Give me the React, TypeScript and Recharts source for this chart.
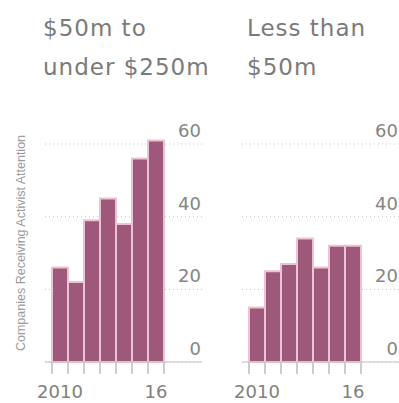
import React from 'react';
import { BarChart, Bar, XAxis, YAxis, CartesianGrid } from 'recharts';

const years = ['2010', '2011', '2012', '2013', '2014', '2015', '2016'];
const yearLabels = ['2010', '', '', '', '', '', '16'];
const midCapValues = [26, 22, 39, 45, 38, 56, 61];
const smallCapValues = [15, 25, 27, 34, 26, 32, 32];
const yTicks = [0, 20, 40, 60];
const leftTitle = ['$50m to', 'under $250m'];
const rightTitle = ['Less than', '$50m'];
const yTitle = 'Companies Receiving Activist Attention';

const BAR = '#9e5879';
const SEP = '#ecc3d2';
const TEXT = '#7a7a7a';
const FONT = '"DejaVu Sans", sans-serif';

const CHART_W = 210;
const M_LEFT = 45;
const M_RIGHT = 7;
const Y_W = 1;
const PAD_L = 7;
const PAD_R = 38;
const PLOT_W = CHART_W - M_LEFT - M_RIGHT - Y_W;
const HALF_BAND = (PLOT_W - PAD_L - PAD_R) / years.length / 2;

const renderYTick = (props: any) => {
  const { x, y, payload } = props;
  return (
    <text x={x - 1} y={y - 7} textAnchor="end" fontFamily={FONT} fontSize={18} fill="#858585">
      {payload.value}
    </text>
  );
};

const renderXTick = (props: any) => {
  const { x, y, payload, index } = props;
  const nx = Number(x);
  const ny = Number(y);
  const half = HALF_BAND;
  const label = yearLabels[years.indexOf(String(payload.value))] ?? '';
  return (
    <g>
      <rect x={Math.round(nx - half) - 0.75} y={ny + 1} width={1.5} height={11} fill="#bdbdbd" />
      {index === years.length - 1 && (
        <rect x={Math.round(nx + half) - 0.75} y={ny + 1} width={1.5} height={11} fill="#bdbdbd" />
      )}
      {label && (
        <text x={nx} y={ny + 36} textAnchor="middle" fontFamily={FONT} fontSize={18} fill="#808080">
          {label}
        </text>
      )}
    </g>
  );
};

const Panel = ({ values }: { values: number[] }) => {
  const data = years.map((y, i) => ({ year: y, value: values[i] }));
  return (
    <BarChart
      width={CHART_W}
      height={403}
      data={data}
      margin={{ top: 129.5, right: M_RIGHT, bottom: 0, left: M_LEFT }}
      barCategoryGap={0}
    >
      <CartesianGrid
        horizontal
        vertical={false}
        horizontalValues={yTicks}
        stroke="#c4c4c4"
        strokeDasharray="1 3"
      />
      <XAxis
        dataKey="year"
        height={41}
        interval={0}
        tickLine={false}
        tickSize={0}
        tickMargin={0}
        axisLine={{ stroke: '#c2c2c2' }}
        padding={{ left: PAD_L, right: PAD_R }}
        tick={renderXTick}
      />
      <YAxis
        orientation="right"
        width={Y_W}
        domain={[0, 64]}
        ticks={yTicks}
        interval={0}
        axisLine={false}
        tickLine={false}
        tickSize={0}
        tickMargin={0}
        tick={renderYTick}
      />
      <Bar dataKey="value" fill={BAR} stroke={SEP} strokeWidth={2} isAnimationActive={false} />
    </BarChart>
  );
};

export default function App() {
  return (
    <div
      style={{
        position: 'absolute',
        left: 0,
        top: 0,
        width: 399,
        height: 403,
        overflow: 'hidden',
        background: '#ffffff',
      }}
    >
      <div style={{ position: 'absolute', left: 0, top: 0 }}>
        <Panel values={midCapValues} />
      </div>
      <div style={{ position: 'absolute', left: 197, top: 0 }}>
        <Panel values={smallCapValues} />
      </div>
      <svg width={399} height={403} style={{ position: 'absolute', left: 0, top: 0, pointerEvents: 'none' }}>
        <g fontFamily={FONT} fontSize={23} fill={TEXT} letterSpacing={1}>
          <text x={43} y={36}>{leftTitle[0]}</text>
          <text x={43} y={75}>{leftTitle[1]}</text>
          <text x={247} y={36}>{rightTitle[0]}</text>
          <text x={247} y={75}>{rightTitle[1]}</text>
        </g>
        <text
          x={21}
          y={243}
          transform="rotate(-90 21 243)"
          textAnchor="middle"
          dominantBaseline="central"
          fontFamily='"Liberation Sans", sans-serif'
          fontSize={12.5}
          fill="#9a9a9a"
        >
          {yTitle}
        </text>
      </svg>
    </div>
  );
}
